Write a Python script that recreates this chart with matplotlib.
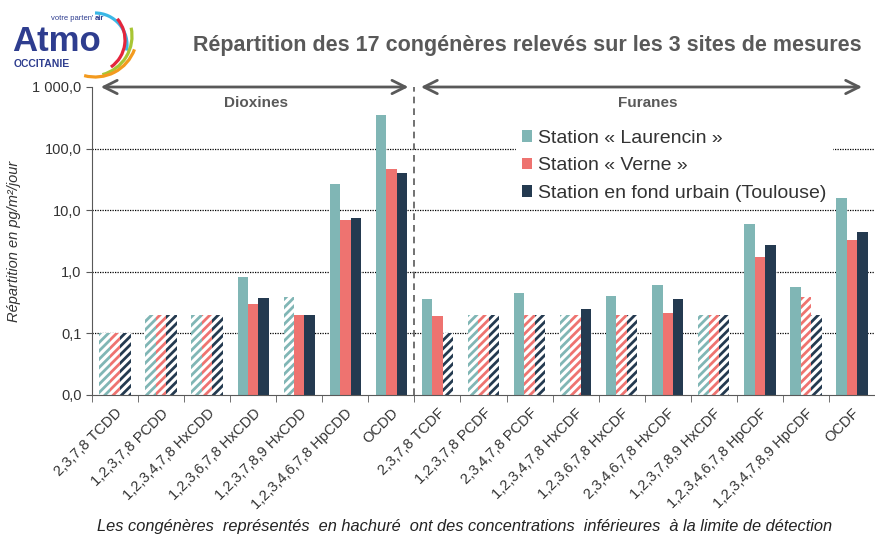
import numpy as np
import matplotlib
matplotlib.use("Agg")
import matplotlib.pyplot as plt
from matplotlib.patches import Arc

# Data (pg/m²/jour)
congeneres = ["2,3,7,8 TCDD", "1,2,3,7,8 PCDD", "1,2,3,4,7,8 HxCDD", "1,2,3,6,7,8 HxCDD",
              "1,2,3,7,8,9 HxCDD", "1,2,3,4,6,7,8 HpCDD", "OCDD",
              "2,3,7,8 TCDF", "1,2,3,7,8 PCDF", "2,3,4,7,8 PCDF", "1,2,3,4,7,8 HxCDF",
              "1,2,3,6,7,8 HxCDF", "2,3,4,6,7,8 HxCDF", "1,2,3,7,8,9 HxCDF",
              "1,2,3,4,6,7,8 HpCDF", "1,2,3,4,7,8,9 HpCDF", "OCDF"]
laurencin = [0.1, 0.2, 0.2, 0.81, 0.39, 26.4, 350, 0.36, 0.2, 0.46, 0.2, 0.41, 0.62, 0.2, 6.0, 0.57, 15.8]
verne = [0.1, 0.2, 0.2, 0.30, 0.2, 6.85, 46.7, 0.19, 0.2, 0.2, 0.2, 0.2, 0.217, 0.2, 1.76, 0.385, 3.3]
urbain = [0.1, 0.2, 0.2, 0.37, 0.2, 7.4, 40, 0.1, 0.2, 0.2, 0.246, 0.2, 0.36, 0.2, 2.72, 0.2, 4.4]
# 1 = below detection limit (hatched)
laurencin_ld = [1, 1, 1, 0, 1, 0, 0, 0, 1, 0, 1, 0, 0, 1, 0, 0, 0]
verne_ld = [1, 1, 1, 0, 0, 0, 0, 0, 1, 1, 1, 1, 0, 1, 0, 1, 0]
urbain_ld = [1, 1, 1, 0, 0, 0, 0, 1, 1, 1, 0, 1, 0, 1, 0, 1, 0]
series_names = ["Station « Laurencin »", "Station « Verne »", "Station en fond urbain (Toulouse)"]
colors = ["#80b6b5", "#ee7370", "#243a50"]
ytick_vals = [0.01, 0.1, 1, 10, 100, 1000]
ytick_labels = ["0,0", "0,1", "1,0", "10,0", "100,0", "1 000,0"]

plt.rcParams["font.family"] = ["Liberation Sans", "DejaVu Sans"]
plt.rcParams["hatch.linewidth"] = 2.0
grey = "#595959"

fig = plt.figure(figsize=(8.75, 5.37), dpi=100)
ax = fig.add_axes([92 / 875, 1 - 395 / 537, 1 - 92 / 875, (395 - 87) / 537])

x = np.arange(len(congeneres))
w = 0.227
for i, (vals, ld) in enumerate(zip([laurencin, verne, urbain], [laurencin_ld, verne_ld, urbain_ld])):
    pos = x + (i - 1) * w
    for xp, v, h in zip(pos, vals, ld):
        if h:
            ax.bar(xp, v, w, color="white", edgecolor=colors[i], hatch="////", linewidth=0, zorder=2)
        else:
            ax.bar(xp, v, w, color=colors[i], linewidth=0, zorder=2)
    # legend proxy
    ax.bar(np.nan, np.nan, w, color=colors[i], label=series_names[i])

ax.set_yscale("log")
ax.set_ylim(0.01, 1000)
ax.set_xlim(-0.5, 16.3)
ax.set_yticks(ytick_vals)
ax.set_yticklabels(ytick_labels)
ax.yaxis.set_minor_locator(matplotlib.ticker.NullLocator())
for v in ytick_vals[1:-1]:
    ax.axhline(v, color="black", linestyle=(0, (1, 1)), linewidth=0.9, zorder=1)

ax.set_xticks(x)
ax.set_xticklabels(congeneres, rotation=45, ha="right", rotation_mode="anchor")
ax.set_xticks(np.arange(-0.5, 16.6, 1), minor=True)
ax.tick_params(axis="x", which="major", length=0, pad=8, labelsize=10.5, labelcolor="#333333")
ax.tick_params(axis="x", which="minor", length=5, color=grey)
ax.tick_params(axis="y", length=4, color=grey, labelsize=10.5, labelcolor="#333333")

for s in ["top", "right"]:
    ax.spines[s].set_visible(False)
ax.spines["left"].set_color(grey)
ax.spines["bottom"].set_color(grey)

# separator and family arrows
ax.axvline(6.5, color=grey, linestyle=(0, (4, 3)), linewidth=1.2, zorder=1)
ax.annotate("", xy=(-0.37, 1000), xytext=(6.43, 1000),
            arrowprops=dict(arrowstyle="<->", color=grey, lw=2, mutation_scale=24), annotation_clip=False)
ax.annotate("", xy=(6.58, 1000), xytext=(16.28, 1000),
            arrowprops=dict(arrowstyle="<->", color=grey, lw=2, mutation_scale=24), annotation_clip=False)
ax.text(3.06, 560, "Dioxines", ha="center", va="center", fontsize=11, fontweight="bold", color=grey)
ax.text(11.56, 560, "Furanes", ha="center", va="center", fontsize=11, fontweight="bold", color=grey)

leg = ax.legend(loc="upper left", bbox_to_anchor=(0.529, 0.912), frameon=True, fancybox=False,
                edgecolor="white", framealpha=1, fontsize=14, handlelength=0.55, handleheight=0.55,
                handletextpad=0.3, labelspacing=0.55, borderpad=0.3)
leg.set_zorder(1.5)
for t in leg.get_texts():
    t.set_color("#333333")

ax.set_ylabel("Répartition en pg/m²/jour", fontstyle="italic", fontsize=10.5, color="#333333", labelpad=8)

fig.text(527 / 875, 1 - 45 / 537, "Répartition des 17 congénères relevés sur les 3 sites de mesures",
         ha="center", va="center", fontsize=15.5, fontweight="bold", color=grey)
fig.text(465 / 875, 1 - 527 / 537,
         "Les congénères  représentés  en hachuré  ont des concentrations  inférieures  à la limite de détection",
         ha="center", va="center", fontsize=11.8, fontstyle="italic", color="#222222")

# logo
navy = "#2e3d8f"
fig.text(12 / 875, 1 - 51 / 537, "Atmo", fontsize=25, fontweight="bold", color=navy, va="baseline", ha="left")
fig.text(14 / 875, 1 - 64 / 537, "OCCITANIE", fontsize=7.5, fontweight="bold", color=navy, va="center", ha="left")
fig.text(51 / 875, 1 - 19 / 537, "votre parten'", fontsize=5.5, color=navy, va="center", ha="left")
fig.text(95 / 875, 1 - 19 / 537, "air", fontsize=5.5, fontweight="bold", color=navy, va="center", ha="left")
lax = fig.add_axes([0, 1 - 80 / 537, 150 / 875, 80 / 537], zorder=-1)
lax.set_xlim(0, 150)
lax.set_ylim(0, 80)
lax.axis("off")
arc_cols = ["#3ab7e6", "#e4253c", "#a8c534", "#f39a1e"]
arc_specs = [((95, 35), 32, -10, 90), ((92, 40), 33, -55, 40), ((92, 44), 40, -75, 12), ((95, 45), 42, -105, -20)]
for c, (ctr, r, t1, t2) in zip(arc_cols, arc_specs):
    lax.add_patch(Arc(ctr, 2 * r, 2 * r, theta1=t1, theta2=t2, color=c, lw=2.3))

fig.savefig("out.png", dpi=100)
